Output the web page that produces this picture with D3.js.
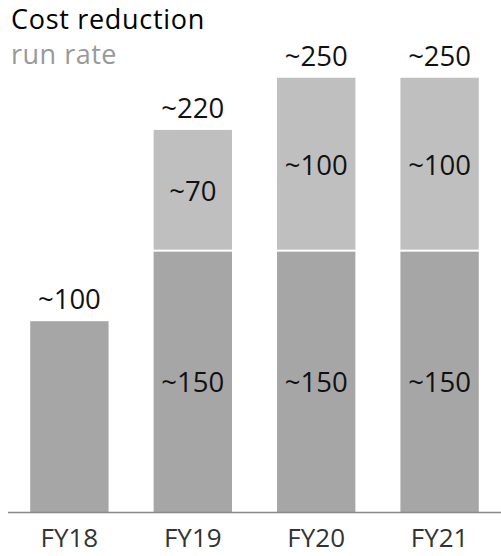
<!DOCTYPE html>
<html>
<head>
<meta charset="utf-8">
<script src="https://cdn.jsdelivr.net/npm/d3@7"></script>
<style>
  html, body { margin: 0; padding: 0; background: #fff; }
  svg { display: block; font-family: "Open Sans", "Noto Sans", sans-serif; }
</style>
</head>
<body>
<svg id="chart" width="501" height="556"></svg>
<script>
const categories = ["FY18", "FY19", "FY20", "FY21"];
const baseValues = [110, 150, 150, 150];
const topValues = [0, 70, 100, 100];
const baseLabels = ["", "~150", "~150", "~150"];
const topLabels = ["", "~70", "~100", "~100"];
const totalLabels = ["~100", "~220", "~250", "~250"];

const W = 501, H = 556;
const svg = d3.select("#chart");

const x = d3.scaleBand().domain(categories).range([8, 501]).paddingInner(0.365).paddingOuter(0.18);
const y = d3.scaleLinear().domain([0, 250]).range([512.5, 77.75]);

const data = categories.map((c, i) => ({
  c, base: baseValues[i], top: topValues[i],
  bl: baseLabels[i], tl: topLabels[i], tot: totalLabels[i]
}));

const LF = 27.5;

// title
svg.append("text").attr("x", 11).attr("y", 29).attr("font-size", 27).attr("letter-spacing", 0.7).attr("fill", "#000").text("Cost reduction");
svg.append("text").attr("x", 11).attr("y", 64).attr("font-size", 27).attr("letter-spacing", 0.5).attr("fill", "#999").text("run rate");

// base bars
svg.selectAll("rect.base").data(data).join("rect").attr("class", "base")
  .attr("x", d => x(d.c)).attr("width", x.bandwidth())
  .attr("y", d => y(d.base)).attr("height", d => y(0) - y(d.base))
  .attr("fill", "#a6a6a6");

// top bars
svg.selectAll("rect.top").data(data.filter(d => d.top > 0)).join("rect").attr("class", "top")
  .attr("x", d => x(d.c)).attr("width", x.bandwidth())
  .attr("y", d => y(d.base + d.top)).attr("height", d => y(d.base) - y(d.base + d.top) - 2)
  .attr("fill", "#bfbfbf");

// axis line
const axis = d3.axisBottom(x).tickSize(0).tickPadding(16);
const gx = svg.append("g").attr("transform", `translate(0,${y(0)})`).call(axis);
gx.select(".domain").attr("d", "M8,0H501").attr("stroke", "#888").attr("stroke-width", 1.5);
gx.selectAll(".tick text").attr("font-size", 26).attr("fill", "#333").attr("font-family", "Open Sans, Noto Sans, sans-serif").attr("dy", "0.71em");

// total labels
svg.selectAll("text.tot").data(data).join("text").attr("class", "tot")
  .attr("x", d => x(d.c) + x.bandwidth() / 2).attr("y", d => y(d.base + d.top) - 12)
  .attr("text-anchor", "middle").attr("font-size", LF).attr("fill", "#111").text(d => d.tot);

// inner labels
svg.selectAll("text.bl").data(data.filter(d => d.bl)).join("text").attr("class", "bl")
  .attr("x", d => x(d.c) + x.bandwidth() / 2).attr("y", d => (y(0) + y(d.base)) / 2)
  .attr("dy", "0.36em").attr("text-anchor", "middle").attr("font-size", LF).attr("fill", "#111").text(d => d.bl);
svg.selectAll("text.tl").data(data.filter(d => d.tl)).join("text").attr("class", "tl")
  .attr("x", d => x(d.c) + x.bandwidth() / 2).attr("y", d => (y(d.base) + y(d.base + d.top)) / 2)
  .attr("dy", "0.36em").attr("text-anchor", "middle").attr("font-size", LF).attr("fill", "#111").text(d => d.tl);
</script>
</body>
</html>
